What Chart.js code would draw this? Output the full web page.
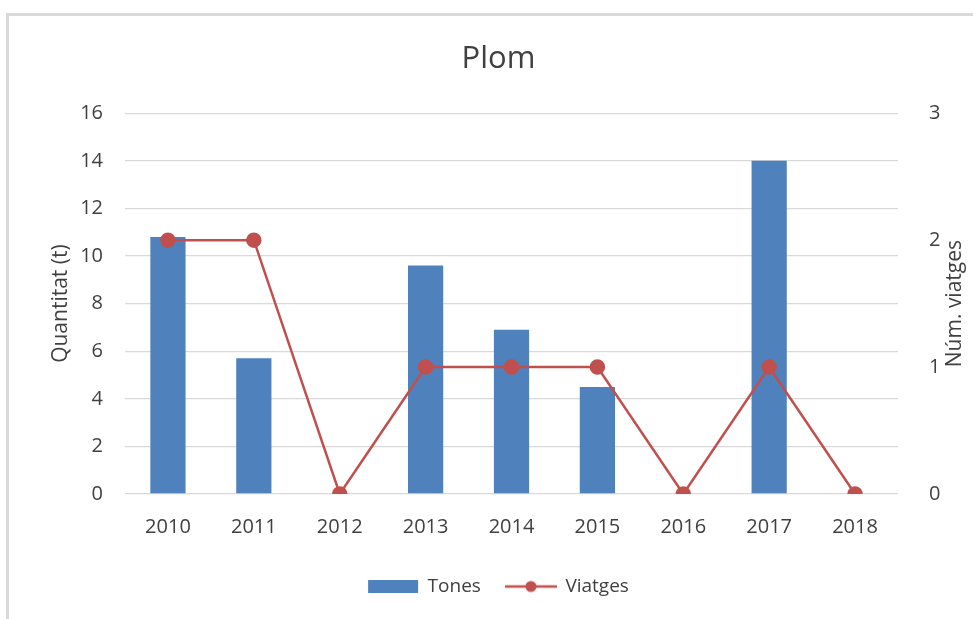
<!DOCTYPE html>
<html>
<head>
<meta charset="utf-8">
<title>Plom</title>
<script src="https://cdn.jsdelivr.net/npm/chart.js@4.4.1/dist/chart.umd.min.js"></script>
<style>
  html, body { margin: 0; padding: 0; background: #fff; }
  #frame {
    position: absolute; left: 6px; top: 13px; width: 1000px; height: 700px;
    border-left: 3px solid #d9d9d9; border-top: 3px solid #d9d9d9;
  }
  #wrap { position: absolute; left: 0; top: 0; width: 973px; height: 619px; }
</style>
</head>
<body>
<div id="frame"></div>
<div id="wrap"><canvas id="chart"></canvas></div>
<script>
// dades
const years = ['2010', '2011', '2012', '2013', '2014', '2015', '2016', '2017', '2018'];
const tones = [10.8, 5.7, 0, 9.6, 6.9, 4.5, 0, 14, 0];
const viatges = [2, 2, 0, 1, 1, 1, 0, 1, 0];
const tonesTicks = [0, 2, 4, 6, 8, 10, 12, 14, 16];
const viatgesTicks = [0, 1, 2, 3];

const BLUE = '#4f81bd';
const RED = '#c0504d';
const TEXT = '#404040';
const FONT = "'Open Sans', sans-serif";

// icona de llegenda: línia amb punt
function lineIcon() {
    const c = document.createElement('canvas');
    c.width = 52; c.height = 14;
    const g = c.getContext('2d');
    g.strokeStyle = RED;
    g.lineWidth = 2.5;
    g.beginPath();
    g.moveTo(0, 7); g.lineTo(52, 7);
    g.stroke();
    g.fillStyle = RED;
    g.beginPath();
    g.arc(26, 7, 5.5, 0, Math.PI * 2);
    g.fill();
    return c;
}

// títol de l'eix dret, girat com el de l'esquerre
const rightTitle = {
    id: 'rightTitle',
    afterDraw(chart) {
        const s = chart.scales.y1;
        const ctx = chart.ctx;
        ctx.save();
        ctx.translate(s.right - 13, (chart.chartArea.top + chart.chartArea.bottom) / 2);
        ctx.rotate(-Math.PI / 2);
        ctx.fillStyle = TEXT;
        ctx.font = '21px ' + FONT;
        ctx.textAlign = 'center';
        ctx.textBaseline = 'middle';
        ctx.fillText('Núm. viatges', 0, 0);
        ctx.restore();
    }
};

new Chart(document.getElementById('chart'), {
    data: {
        labels: years,
        datasets: [
            {
                type: 'bar',
                label: 'Tones',
                data: tones,
                backgroundColor: BLUE,
                yAxisID: 'y',
                barPercentage: 0.41,
                categoryPercentage: 1,
                order: 1
            },
            {
                type: 'line',
                label: 'Viatges',
                data: viatges,
                borderColor: RED,
                backgroundColor: RED,
                borderWidth: 2.5,
                pointRadius: 6.5,
                pointHoverRadius: 6.5,
                tension: 0,
                yAxisID: 'y1',
                order: 0
            }
        ]
    },
    options: {
        responsive: true,
        maintainAspectRatio: false,
        animation: false,
        layout: {padding: {left: 29, right: 5, top: 41, bottom: 13}},
        plugins: {
            title: {
                display: true,
                text: 'Plom',
                color: TEXT,
                font: {family: FONT, size: 31, weight: 'normal'},
                padding: {top: 0, bottom: 35}
            },
            legend: {
                position: 'bottom',
                labels: {
                    color: TEXT,
                    font: {family: FONT, size: 19},
                    usePointStyle: true,
                    pointStyleWidth: 50,
                    boxHeight: 13,
                    padding: 25,
                    generateLabels: () => [
                        {text: 'Tones', fillStyle: BLUE, strokeStyle: BLUE, lineWidth: 0, pointStyle: 'rect', fontColor: TEXT, datasetIndex: 0},
                        {text: 'Viatges', fillStyle: RED, strokeStyle: RED, lineWidth: 0, pointStyle: lineIcon(), fontColor: TEXT, datasetIndex: 1}
                    ]
                }
            },
            tooltip: {enabled: false}
        },
        scales: {
            x: {
                offset: true,
                grid: {display: false},
                border: {display: false},
                ticks: {color: TEXT, font: {family: FONT, size: 20}, padding: 13, maxRotation: 0}
            },
            y: {
                position: 'left',
                min: tonesTicks[0],
                max: tonesTicks[tonesTicks.length - 1],
                afterBuildTicks: axis => { axis.ticks = tonesTicks.map(v => ({value: v})); },
                afterFit: axis => { axis.width = 96; },
                grid: {color: '#d9d9d9', lineWidth: 1.3, drawTicks: false},
                border: {display: false},
                ticks: {color: TEXT, font: {family: FONT, size: 20}, padding: 22},
                title: {
                    display: true,
                    text: 'Quantitat (t)',
                    color: TEXT,
                    font: {family: FONT, size: 21},
                    padding: {top: 19, bottom: 0}
                }
            },
            y1: {
                position: 'right',
                min: viatgesTicks[0],
                max: viatgesTicks[viatgesTicks.length - 1],
                afterBuildTicks: axis => { axis.ticks = viatgesTicks.map(v => ({value: v})); },
                afterFit: axis => { axis.width = 70; },
                grid: {display: false},
                border: {display: false},
                ticks: {color: TEXT, font: {family: FONT, size: 20}, padding: 23}
            }
        }
    },
    plugins: [rightTitle]
});
</script>
</body>
</html>
